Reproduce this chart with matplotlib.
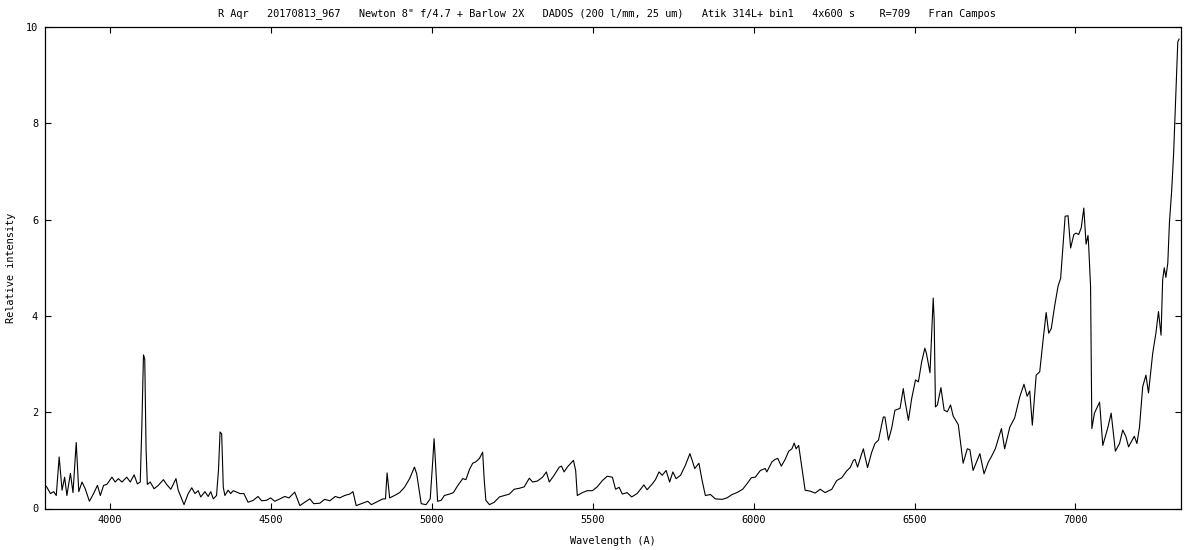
import matplotlib
matplotlib.use("Agg")
import matplotlib.pyplot as plt

wavelength = [
    3802, 3804, 3815, 3825, 3833, 3842, 3851, 3859, 3866, 3877, 3885, 3895, 3903, 3913, 3923,
    3936, 3949, 3961, 3970, 3980, 3990, 4006, 4016, 4026, 4037, 4052, 4063, 4075, 4085,
    4094, 4099, 4104, 4108, 4112, 4116, 4125, 4137, 4150, 4166, 4176, 4189, 4205, 4212,
    4230, 4243, 4254, 4264, 4274, 4282, 4295, 4305, 4313, 4321, 4331, 4337, 4342, 4347,
    4352, 4357, 4367, 4375, 4383, 4404, 4416, 4429, 4445, 4460, 4471, 4486, 4499, 4512,
    4528, 4543, 4556, 4574, 4590, 4605, 4621, 4633, 4652, 4667, 4683, 4700, 4714, 4729,
    4745, 4755, 4765, 4781, 4801, 4812, 4827, 4848, 4856, 4861, 4869, 4884, 4900, 4915,
    4931, 4946, 4953, 4967, 4982, 4995, 5003, 5007, 5011, 5018, 5029, 5039, 5055, 5067,
    5080, 5096, 5106, 5117, 5127, 5137, 5148, 5158, 5163, 5168, 5179, 5194, 5210, 5225,
    5241, 5256, 5272, 5287, 5303, 5313, 5328, 5344, 5356, 5365, 5380, 5396, 5403, 5411,
    5421, 5432, 5440, 5447, 5452, 5468, 5483, 5499, 5514, 5530, 5545, 5561, 5571, 5582,
    5592, 5607, 5621, 5638, 5659, 5669, 5685, 5695, 5706, 5716, 5728, 5739, 5749, 5759,
    5773, 5788, 5802, 5809, 5817, 5830, 5840, 5850, 5866, 5881, 5902, 5917, 5933, 5948,
    5966, 5979, 5993, 6005, 6021, 6036, 6041, 6057, 6067, 6075, 6086, 6098, 6109, 6119,
    6126, 6132, 6140, 6148, 6160, 6176, 6191, 6207, 6222, 6243, 6258, 6274, 6289, 6300,
    6310, 6315, 6323, 6334, 6341, 6346, 6354, 6367, 6377, 6388, 6403, 6408, 6419, 6429,
    6439, 6455, 6465, 6470, 6481, 6491, 6503, 6512, 6522, 6532, 6537, 6548, 6555, 6558,
    6561, 6565, 6571, 6582, 6592, 6602, 6612, 6620, 6636, 6651, 6664, 6672, 6682, 6703,
    6716, 6729, 6739, 6751, 6770, 6780, 6796, 6811, 6827, 6840, 6850, 6858, 6866, 6878,
    6889, 6899, 6909, 6917, 6925, 6935, 6946, 6954, 6961, 6968, 6977, 6985, 6995, 7002,
    7010, 7018, 7026, 7033, 7039, 7041, 7047, 7051, 7059, 7075, 7085, 7101, 7111, 7124,
    7137, 7147, 7157, 7165, 7173, 7183, 7191, 7199, 7209, 7219, 7227, 7240, 7250, 7258,
    7266, 7271, 7276, 7281, 7287, 7292, 7299, 7305, 7309, 7314, 7318, 7322,
]

intensity = [
    0.46, 0.44, 0.31, 0.35, 0.27, 1.07, 0.38, 0.65, 0.27, 0.73, 0.33, 1.37, 0.35, 0.55, 0.41,
    0.15, 0.31, 0.48, 0.27, 0.48, 0.50, 0.65, 0.55, 0.62, 0.55, 0.65, 0.55, 0.70, 0.51,
    0.55, 1.73, 3.19, 3.10, 1.25, 0.50, 0.55, 0.41, 0.48, 0.60, 0.50, 0.40, 0.62, 0.38,
    0.08, 0.31, 0.43, 0.31, 0.37, 0.24, 0.35, 0.25, 0.35, 0.20, 0.27, 0.79, 1.59, 1.55,
    0.44, 0.27, 0.38, 0.31, 0.37, 0.31, 0.31, 0.13, 0.17, 0.25, 0.16, 0.17, 0.22, 0.15,
    0.20, 0.25, 0.22, 0.34, 0.06, 0.13, 0.20, 0.10, 0.11, 0.19, 0.16, 0.25, 0.22, 0.27,
    0.30, 0.35, 0.06, 0.10, 0.15, 0.08, 0.13, 0.20, 0.20, 0.74, 0.22, 0.27, 0.33, 0.44,
    0.62, 0.86, 0.72, 0.10, 0.08, 0.20, 1.00, 1.45, 1.00, 0.15, 0.17, 0.27, 0.30, 0.33,
    0.47, 0.62, 0.60, 0.81, 0.94, 0.97, 1.04, 1.17, 0.58, 0.17, 0.08, 0.13, 0.24, 0.27,
    0.30, 0.40, 0.42, 0.45, 0.63, 0.55, 0.57, 0.65, 0.76, 0.55, 0.69, 0.86, 0.88, 0.76,
    0.86, 0.94, 1.00, 0.79, 0.27, 0.33, 0.37, 0.37, 0.45, 0.58, 0.67, 0.65, 0.40, 0.44,
    0.30, 0.33, 0.24, 0.31, 0.49, 0.39, 0.51, 0.60, 0.76, 0.69, 0.79, 0.55, 0.76, 0.62,
    0.69, 0.90, 1.14, 1.00, 0.83, 0.94, 0.58, 0.27, 0.29, 0.20, 0.19, 0.22, 0.29, 0.33,
    0.40, 0.51, 0.64, 0.65, 0.79, 0.83, 0.76, 0.97, 1.02, 1.04, 0.88, 1.02, 1.19, 1.24,
    1.36, 1.24, 1.31, 0.94, 0.38, 0.36, 0.32, 0.40, 0.33, 0.40, 0.58, 0.64, 0.78, 0.85,
    1.00, 1.02, 0.86, 1.10, 1.24, 1.08, 0.85, 1.17, 1.35, 1.42, 1.90, 1.90, 1.42, 1.67,
    2.04, 2.08, 2.49, 2.25, 1.83, 2.28, 2.67, 2.63, 3.04, 3.33, 3.22, 2.82, 3.92, 4.37,
    3.92, 2.11, 2.15, 2.51, 2.04, 2.01, 2.15, 1.92, 1.74, 0.94, 1.24, 1.22, 0.79, 1.14,
    0.72, 0.96, 1.08, 1.24, 1.66, 1.24, 1.69, 1.88, 2.32, 2.58, 2.33, 2.44, 1.73, 2.77,
    2.84, 3.47, 4.07, 3.64, 3.74, 4.19, 4.62, 4.78, 5.44, 6.07, 6.08, 5.41, 5.69, 5.72,
    5.69, 5.83, 6.24, 5.49, 5.67, 5.47, 4.61, 1.66, 1.98, 2.21, 1.31, 1.69, 1.98, 1.19,
    1.35, 1.63, 1.49, 1.28, 1.38, 1.50, 1.35, 1.69, 2.53, 2.77, 2.40, 3.22, 3.64, 4.09,
    3.60, 4.75, 5.00, 4.80, 5.10, 5.93, 6.60, 7.36, 8.06, 8.96, 9.69, 9.75,
]

title_text = ('R Aqr   20170813_967   Newton 8" f/4.7 + Barlow 2X   DADOS (200 l/mm, 25 um)   '
              'Atik 314L+ bin1   4x600 s    R=709   Fran Campos')
x_ticks = [4000, 4500, 5000, 5500, 6000, 6500, 7000]
y_ticks = [0, 2, 4, 6, 8, 10]

plt.rcParams['font.family'] = ['DejaVu Sans Mono']
fs = 7.4

fig = plt.figure(figsize=(12, 5.5), dpi=100)
ax = fig.add_axes([45/1200, 41.5/550, (1181-45)/1200, (508.5-27)/550])
ax.plot(wavelength, intensity, color='black', lw=0.8)
ax.set_xlim(3798, 7328)
ax.set_ylim(0, 10)
ax.set_xticks(x_ticks)
ax.set_yticks(y_ticks)
ax.tick_params(direction='in', length=4.3, width=0.8, top=True, right=True,
               labelsize=fs, pad=5, colors='black')
for s in ax.spines.values():
    s.set_linewidth(0.9)
ax.set_xlabel('Wavelength (A)', fontsize=fs)
ax.set_ylabel('Relative intensity', fontsize=fs)
ax.xaxis.set_label_coords((613 - 45) / 1136, -(541 - 508.5) / 481.5)
ax.yaxis.set_label_coords((11 - 45) / 1136, 0.5)
ax.xaxis.label.set_va('center')
ax.yaxis.label.set_va('center')
fig.text(0.506, 1 - 14/550, title_text, fontsize=fs, ha='center', va='center')
fig.savefig('out.png', dpi=100, facecolor='white')
